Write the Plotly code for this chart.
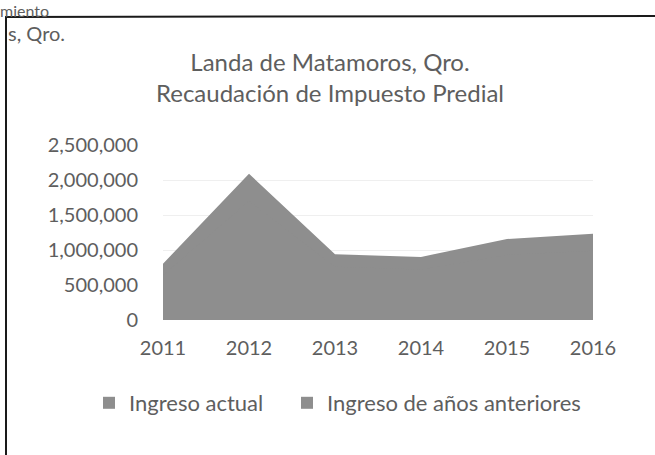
import plotly.graph_objects as go

# --- data ---
years = [2011, 2012, 2013, 2014, 2015, 2016]
ingreso_actual = [640000, 1700000, 760000, 720000, 930000, 990000]
ingreso_anteriores = [164000, 390000, 180000, 181000, 228000, 241000]
y_ticks = [0, 500000, 1000000, 1500000, 2000000, 2500000]
y_tick_labels = ["0", "500,000", "1,000,000", "1,500,000", "2,000,000", "2,500,000"]

W, H = 655, 455
L, R, T, B = 163, 62, 145, 135
PW, PH = W - L - R, H - T - B

GRAY = "#8e8e8e"
TEXT = "#5e5e5e"
FONT = "Lato"


def px(x):
    return (x - L) / PW


def py(y):
    return (H - B - y) / PH


# stacked total drawn first, then the lower series on top (same grey, no seam)
total = [a + b for a, b in zip(ingreso_actual, ingreso_anteriores)]

fig = go.Figure()
fig.add_trace(go.Scatter(x=years, y=total, mode="lines", fill="tozeroy",
                         line=dict(width=0, color=GRAY), fillcolor=GRAY,
                         name="Ingreso de años anteriores", showlegend=False))
fig.add_trace(go.Scatter(x=years, y=ingreso_actual, mode="lines", fill="tozeroy",
                         line=dict(width=0, color=GRAY), fillcolor=GRAY,
                         name="Ingreso actual", showlegend=False))

# legend entries with square swatches, one legend box each so they sit apart
for name, leg in [("Ingreso actual", "legend"), ("Ingreso de años anteriores", "legend2")]:
    fig.add_trace(go.Scatter(x=[None], y=[None], mode="markers", name=name,
                             legend=leg,
                             marker=dict(symbol="square", size=12, color=GRAY)))

legend_style = dict(orientation="h", xanchor="left", y=py(403), yanchor="middle",
                    font=dict(size=22, color=TEXT), itemwidth=30,
                    bgcolor="rgba(0,0,0,0)")

fig.update_layout(
    width=W, height=H,
    margin=dict(l=L, r=R, t=T, b=B),
    paper_bgcolor="white", plot_bgcolor="white",
    font=dict(family=FONT, color=TEXT, size=18),
    showlegend=True,
    legend=dict(x=px(89), **legend_style),
    legend2=dict(x=px(287), **legend_style),
    title=dict(text="Landa de Matamoros, Qro.<br>Recaudación de Impuesto Predial",
               x=330 / W, xanchor="center", y=1 - 71 / H, yanchor="middle",
               font=dict(size=24, color=TEXT, family=FONT)),
)

fig.update_xaxes(range=[2011, 2016], tickvals=years, showgrid=False,
                 showline=False, zeroline=False, ticks="",
                 tickfont=dict(size=20, color=TEXT), ticklabelstandoff=14)
fig.update_yaxes(range=[0, 2500000], tickvals=y_ticks, ticktext=y_tick_labels,
                 showgrid=True, gridcolor="#efefef", gridwidth=1,
                 zeroline=False, showline=False, ticks="",
                 tickfont=dict(size=20, color=TEXT), ticklabelstandoff=24)

# scanned page frame and the cut-off text of the surrounding document
fig.add_annotation(text="miento", xref="paper", yref="paper",
                   x=px(-1), y=py(0), xanchor="left", yanchor="top",
                   borderpad=0, showarrow=False, font=dict(size=16, color=TEXT))
fig.add_annotation(text="s, Qro.", xref="paper", yref="paper",
                   x=px(67), y=py(33), xanchor="right", yanchor="middle",
                   showarrow=False, font=dict(size=20, color=TEXT))
fig.add_shape(type="line", xref="paper", yref="paper",
              x0=px(5), y0=py(17), x1=px(660), y1=py(16),
              line=dict(color="#1a1a1a", width=2))
fig.add_shape(type="line", xref="paper", yref="paper",
              x0=px(6), y0=py(16), x1=px(6), y1=py(460),
              line=dict(color="#1a1a1a", width=2))

# page body has a default 8px margin; drop it so the figure fills the window
fig.write_html("out.html", config={"displayModeBar": False},
               post_script="document.body.style.margin='0';")
